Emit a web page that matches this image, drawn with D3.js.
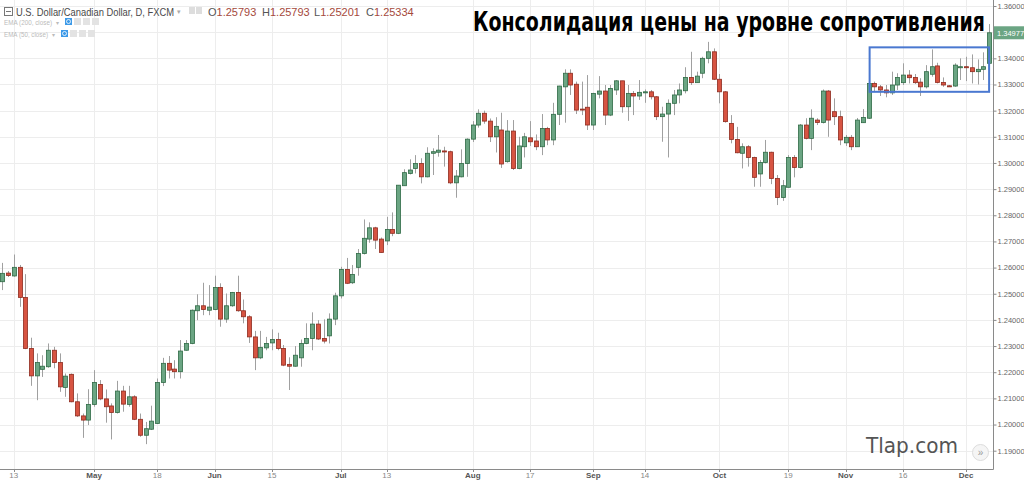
<!DOCTYPE html>
<html>
<head>
<meta charset="utf-8">
<script src="https://cdn.jsdelivr.net/npm/d3@7"></script>
<style>
    body { margin: 0; background: #fff; }
    #chart-area { width: 1024px; height: 480px; }
    text { font-family: Arial, "Liberation Sans", sans-serif; }
</style>
</head>
<body>
<div id="chart-area"></div>
<script>

// USD/CAD daily candles, one per trading day (Apr 9 .. Dec 7)
const opens = [
    1.2546, 1.2579, 1.2568, 1.2601, 1.2486, 1.2291, 1.2186, 1.2211, 1.2221, 1.2284,
    1.2237, 1.2142, 1.2192, 1.2087, 1.2033, 1.2017, 1.2077, 1.2153, 1.2098, 1.2071,
    1.2046, 1.2128, 1.2077, 1.2106, 1.2020, 1.1959, 1.1982, 1.2004, 1.2161, 1.2234,
    1.2212, 1.2202, 1.2284, 1.2310, 1.2435, 1.2454, 1.2437, 1.2440, 1.2524, 1.2403,
    1.2454, 1.2505, 1.2435, 1.2412, 1.2335, 1.2255, 1.2293, 1.2312, 1.2325, 1.2291,
    1.2230, 1.2223, 1.2255, 1.2310, 1.2329, 1.2384, 1.2329, 1.2339, 1.2403, 1.2492,
    1.2593, 1.2542, 1.2601, 1.2654, 1.2709, 1.2752, 1.2709, 1.2702, 1.2746, 1.2731,
    1.2913, 1.2960, 1.2979, 1.2998, 1.2947, 1.3037, 1.3041, 1.3046, 1.3043, 1.2924,
    1.2947, 1.2998, 1.3091, 1.3145, 1.3190, 1.3160, 1.3100, 1.3126, 1.3005, 1.3122,
    1.2979, 1.3062, 1.3096, 1.3084, 1.3062, 1.3132, 1.3088, 1.3186, 1.3291, 1.3343,
    1.3301, 1.3206, 1.3213, 1.3145, 1.3263, 1.3275, 1.3183, 1.3279, 1.3314, 1.3215,
    1.3266, 1.3256, 1.3268, 1.3272, 1.3253, 1.3177, 1.3187, 1.3228, 1.3260, 1.3276,
    1.3327, 1.3307, 1.3343, 1.3400, 1.3425, 1.3320, 1.3272, 1.3151, 1.3090, 1.3037,
    1.3062, 1.3021, 1.2958, 1.3002, 1.3041, 1.2941, 1.2868, 1.2907, 1.3021, 1.2983,
    1.3145, 1.3094, 1.3164, 1.3155, 1.3275, 1.3196, 1.3177, 1.3077, 1.3098, 1.3062,
    1.3154, 1.3171, 1.3304, 1.3291, 1.3279, 1.3268, 1.3298, 1.3307, 1.3336, 1.3327,
    1.3309, 1.3291, 1.3339, 1.3371, 1.3308, 1.3295, 1.3294, 1.3364, 1.3368, 1.3364,
    1.3349, 1.3358, 1.3381
];
const highs = [
    1.2618, 1.2587, 1.2650, 1.2610, 1.2575, 1.2332, 1.2272, 1.2265, 1.2310, 1.2297,
    1.2272, 1.2195, 1.2195, 1.2119, 1.2042, 1.2135, 1.2208, 1.2170, 1.2134, 1.2081,
    1.2167, 1.2148, 1.2148, 1.2112, 1.2042, 1.2010, 1.2072, 1.2176, 1.2255, 1.2262,
    1.2246, 1.2323, 1.2323, 1.2440, 1.2498, 1.2542, 1.2533, 1.2569, 1.2540, 1.2501,
    1.2507, 1.2569, 1.2478, 1.2418, 1.2358, 1.2358, 1.2335, 1.2364, 1.2351, 1.2304,
    1.2257, 1.2300, 1.2325, 1.2387, 1.2429, 1.2399, 1.2402, 1.2425, 1.2504, 1.2603,
    1.2637, 1.2610, 1.2671, 1.2784, 1.2773, 1.2756, 1.2715, 1.2794, 1.2811, 1.2915,
    1.2976, 1.3014, 1.3030, 1.3018, 1.3060, 1.3056, 1.3107, 1.3062, 1.3047, 1.2973,
    1.3052, 1.3094, 1.3160, 1.3205, 1.3200, 1.3170, 1.3175, 1.3192, 1.3164, 1.3164,
    1.3100, 1.3115, 1.3160, 1.3109, 1.3187, 1.3138, 1.3230, 1.3295, 1.3358, 1.3358,
    1.3311, 1.3311, 1.3336, 1.3268, 1.3332, 1.3298, 1.3298, 1.3317, 1.3314, 1.3298,
    1.3275, 1.3317, 1.3281, 1.3279, 1.3256, 1.3215, 1.3243, 1.3279, 1.3304, 1.3366,
    1.3425, 1.3349, 1.3406, 1.3463, 1.3438, 1.3340, 1.3275, 1.3183, 1.3138, 1.3075,
    1.3068, 1.3024, 1.3011, 1.3088, 1.3043, 1.2954, 1.2935, 1.3030, 1.3030, 1.3149,
    1.3171, 1.3205, 1.3171, 1.3281, 1.3279, 1.3247, 1.3200, 1.3107, 1.3107, 1.3172,
    1.3206, 1.3309, 1.3311, 1.3298, 1.3298, 1.3349, 1.3343, 1.3381, 1.3355, 1.3340,
    1.3324, 1.3374, 1.3434, 1.3383, 1.3327, 1.3298, 1.3381, 1.3400, 1.3406, 1.3415,
    1.3396, 1.3423, 1.3531
];
const lows = [
    1.2514, 1.2564, 1.2565, 1.2450, 1.2288, 1.2148, 1.2093, 1.2182, 1.2217, 1.2215,
    1.2125, 1.2106, 1.2085, 1.2029, 1.1949, 1.1998, 1.2068, 1.2093, 1.2007, 1.1943,
    1.2042, 1.2049, 1.2068, 1.2017, 1.1953, 1.1925, 1.1979, 1.2002, 1.2147, 1.2176,
    1.2176, 1.2176, 1.2282, 1.2307, 1.2399, 1.2418, 1.2418, 1.2437, 1.2374, 1.2389,
    1.2450, 1.2431, 1.2387, 1.2312, 1.2208, 1.2250, 1.2284, 1.2284, 1.2284, 1.2223,
    1.2132, 1.2221, 1.2221, 1.2307, 1.2284, 1.2323, 1.2310, 1.2310, 1.2380, 1.2482,
    1.2537, 1.2537, 1.2569, 1.2650, 1.2695, 1.2671, 1.2657, 1.2686, 1.2720, 1.2728,
    1.2913, 1.2956, 1.2960, 1.2922, 1.2945, 1.2954, 1.3024, 1.2986, 1.2919, 1.2867,
    1.2945, 1.2947, 1.3080, 1.3135, 1.3150, 1.3080, 1.3040, 1.2981, 1.3001, 1.2973,
    1.2976, 1.3021, 1.3065, 1.3049, 1.3030, 1.3068, 1.3068, 1.3145, 1.3154, 1.3260,
    1.3187, 1.3183, 1.3126, 1.3126, 1.3247, 1.3145, 1.3179, 1.3260, 1.3192, 1.3161,
    1.3183, 1.3241, 1.3230, 1.3243, 1.3164, 1.3081, 1.3021, 1.3183, 1.3228, 1.3266,
    1.3298, 1.3307, 1.3324, 1.3381, 1.3317, 1.3228, 1.3154, 1.3075, 1.3037, 1.2979,
    1.2986, 1.2909, 1.2909, 1.2998, 1.2919, 1.2839, 1.2855, 1.2907, 1.2945, 1.2979,
    1.3090, 1.3049, 1.3145, 1.3151, 1.3100, 1.3145, 1.3068, 1.3065, 1.3049, 1.3061,
    1.3153, 1.3168, 1.3272, 1.3256, 1.3251, 1.3260, 1.3279, 1.3298, 1.3304, 1.3302,
    1.3256, 1.3285, 1.3330, 1.3304, 1.3291, 1.3291, 1.3291, 1.3317, 1.3313, 1.3304,
    1.3300, 1.3317, 1.3374
];
const closes = [
    1.2578, 1.2570, 1.2601, 1.2486, 1.2291, 1.2186, 1.2237, 1.2223, 1.2284, 1.2237,
    1.2144, 1.2185, 1.2087, 1.2033, 1.2017, 1.2077, 1.2161, 1.2098, 1.2068, 1.2046,
    1.2128, 1.2078, 1.2106, 1.2020, 1.1959, 1.1984, 1.2013, 1.2161, 1.2234, 1.2208,
    1.2202, 1.2281, 1.2310, 1.2437, 1.2454, 1.2440, 1.2449, 1.2524, 1.2403, 1.2454,
    1.2505, 1.2435, 1.2412, 1.2335, 1.2255, 1.2295, 1.2310, 1.2325, 1.2291, 1.2227,
    1.2223, 1.2265, 1.2310, 1.2329, 1.2384, 1.2327, 1.2319, 1.2403, 1.2492, 1.2593,
    1.2540, 1.2574, 1.2654, 1.2712, 1.2752, 1.2705, 1.2658, 1.2746, 1.2731, 1.2915,
    1.2963, 1.2973, 1.2998, 1.2947, 1.3037, 1.3043, 1.3049, 1.3042, 1.2924, 1.2950,
    1.2998, 1.3091, 1.3145, 1.3190, 1.3160, 1.3100, 1.3140, 1.2996, 1.3122, 1.2979,
    1.3065, 1.3100, 1.3081, 1.3062, 1.3132, 1.3088, 1.3186, 1.3294, 1.3343, 1.3298,
    1.3202, 1.3203, 1.3145, 1.3266, 1.3275, 1.3183, 1.3285, 1.3314, 1.3215, 1.3266,
    1.3256, 1.3270, 1.3272, 1.3253, 1.3177, 1.3187, 1.3228, 1.3260, 1.3279, 1.3327,
    1.3307, 1.3332, 1.3400, 1.3425, 1.3320, 1.3272, 1.3158, 1.3090, 1.3039, 1.3062,
    1.3021, 1.2945, 1.3002, 1.3041, 1.2941, 1.2868, 1.2913, 1.3021, 1.2983, 1.3145,
    1.3094, 1.3171, 1.3155, 1.3275, 1.3164, 1.3177, 1.3088, 1.3098, 1.3062, 1.3164,
    1.3174, 1.3304, 1.3291, 1.3279, 1.3268, 1.3298, 1.3327, 1.3336, 1.3326, 1.3307,
    1.3291, 1.3349, 1.3368, 1.3308, 1.3298, 1.3291, 1.3374, 1.3368, 1.3364, 1.3349,
    1.3358, 1.3368, 1.34977
];

// time axis: bar index of each labelled day
const tickIndex = [2, 16, 27, 37, 47, 59, 67, 82, 92, 103, 112, 125, 137, 147, 157, 168];
const tickLabels = ["13", "May", "18", "Jun", "15", "Jul", "13", "Aug", "17", "Sep", "14", "Oct", "19", "Nov", "16", "Dec"];
const monthLabels = ["May", "Jun", "Jul", "Aug", "Sep", "Oct", "Nov", "Dec"];

// price axis
const priceTicks = [1.19, 1.20, 1.21, 1.22, 1.23, 1.24, 1.25, 1.26, 1.27, 1.28, 1.29, 1.30, 1.31, 1.32, 1.33, 1.34, 1.35, 1.36];

// consolidation box (bar range + price range)
const boxBars = [151, 172];
const boxPrices = [1.3272, 1.3442];

const legendValues = ["1.25793", "1.25793", "1.25201", "1.25334"];


class CandleVis {

    constructor(parentElement) {
        this.parentElement = parentElement;
        this.displayData = [];
        this.initVis();
    }

    initVis() {
        let vis = this;

        vis.width = 993;   // plot area, price scale on the right
        vis.height = 469;

        vis.svg = d3.select("#" + vis.parentElement).append("svg")
            .attr("width", 1024)
            .attr("height", 480);

        vis.x = d3.scaleLinear().domain([0, opens.length - 1]).range([2.3, 989.1]);
        vis.y = d3.scaleLinear().domain([1.183, 1.3623]).range([vis.height, 0]);

        vis.wrangleData();
    }

    wrangleData() {
        let vis = this;

        vis.displayData = opens.map((o, i) => ({
            i: i, open: o, high: highs[i], low: lows[i], close: closes[i],
            up: closes[i] >= o
        }));

        vis.updateVis();
    }

    updateVis() {
        let vis = this;
        let crisp = v => Math.round(v) + 0.5;

        // grid
        vis.svg.append("g").selectAll("line.hgrid")
            .data(priceTicks).enter().append("line")
            .attr("x1", 0).attr("x2", vis.width)
            .attr("y1", d => crisp(vis.y(d))).attr("y2", d => crisp(vis.y(d)))
            .attr("stroke", "#ededed");

        vis.svg.append("g").selectAll("line.vgrid")
            .data(tickIndex).enter().append("line")
            .attr("x1", d => crisp(vis.x(d))).attr("x2", d => crisp(vis.x(d)))
            .attr("y1", 0).attr("y2", vis.height)
            .attr("stroke", "#ededed");

        // candles
        let candles = vis.svg.append("g").selectAll("g.candle")
            .data(vis.displayData).enter().append("g");

        candles.append("line")
            .attr("x1", d => crisp(vis.x(d.i))).attr("x2", d => crisp(vis.x(d.i)))
            .attr("y1", d => vis.y(d.high)).attr("y2", d => vis.y(d.low))
            .attr("stroke", "#a0a0a0");

        candles.append("rect")
            .attr("x", d => Math.round(vis.x(d.i)) - 1.5)
            .attr("width", 4)
            .attr("y", d => vis.y(Math.max(d.open, d.close)))
            .attr("height", d => Math.max(1, Math.abs(vis.y(d.open) - vis.y(d.close))))
            .attr("fill", d => d.up ? "#6ba583" : "#d75442")
            .attr("stroke", d => d.up ? "#2f6a45" : "#8e2b1f")
            .attr("stroke-width", 0.8);

        // consolidation box
        vis.svg.append("rect")
            .attr("x", vis.x(boxBars[0]) + 1)
            .attr("y", vis.y(boxPrices[1]))
            .attr("width", vis.x(boxBars[1]) - vis.x(boxBars[0]) - 1)
            .attr("height", vis.y(boxPrices[0]) - vis.y(boxPrices[1]))
            .attr("fill", "none")
            .attr("stroke", "#4a78d0")
            .attr("stroke-width", 2);

        // axes frame
        vis.svg.append("line")
            .attr("x1", vis.width + 0.5).attr("x2", vis.width + 0.5)
            .attr("y1", 0).attr("y2", vis.height + 0.5)
            .attr("stroke", "#8a8a8a");
        vis.svg.append("line")
            .attr("x1", 0).attr("x2", vis.width + 0.5)
            .attr("y1", vis.height + 0.5).attr("y2", vis.height + 0.5)
            .attr("stroke", "#8a8a8a");

        // price axis
        let yAxis = vis.svg.append("g")
            .attr("transform", `translate(${vis.width + 0.5}, 0)`)
            .call(d3.axisRight(vis.y).tickValues(priceTicks).tickSize(3).tickPadding(1)
                .tickFormat(d3.format(".5f")));
        yAxis.select(".domain").remove();
        yAxis.selectAll("line").attr("stroke", "#8a8a8a");
        yAxis.selectAll("text").attr("fill", "#666").style("font-size", "7.5px");

        // last price marker
        let lastY = vis.y(closes[closes.length - 1]);
        vis.svg.append("rect")
            .attr("x", vis.width + 1).attr("y", lastY - 6.5)
            .attr("width", 1024 - vis.width - 1).attr("height", 13)
            .attr("fill", "#6ba583");
        vis.svg.append("text")
            .attr("x", vis.width + 4).attr("y", lastY + 3)
            .attr("fill", "#fff").style("font-size", "7.5px")
            .text(d3.format(".5f")(closes[closes.length - 1]));

        // time axis labels
        vis.svg.append("g").selectAll("text")
            .data(tickIndex).enter().append("text")
            .attr("x", d => vis.x(d))
            .attr("y", 478)
            .attr("text-anchor", "middle")
            .attr("fill", (d, i) => monthLabels.includes(tickLabels[i]) ? "#555" : "#888")
            .style("font-size", "8px")
            .style("font-weight", (d, i) => monthLabels.includes(tickLabels[i]) ? "bold" : "normal")
            .text((d, i) => tickLabels[i]);
        vis.svg.append("g").selectAll("line")
            .data(tickIndex).enter().append("line")
            .attr("x1", d => crisp(vis.x(d))).attr("x2", d => crisp(vis.x(d)))
            .attr("y1", vis.height + 1).attr("y2", vis.height + 3)
            .attr("stroke", "#8a8a8a");

        vis.drawLegend();
        vis.drawNotes();
    }

    drawLegend() {
        let vis = this;
        let g = vis.svg.append("g");

        // collapse box
        g.append("rect").attr("x", 4.5).attr("y", 7.5).attr("width", 8).attr("height", 8)
            .attr("fill", "none").attr("stroke", "#777");
        g.append("line").attr("x1", 6).attr("x2", 11).attr("y1", 11.5).attr("y2", 11.5).attr("stroke", "#777");

        g.append("text").attr("x", 16).attr("y", 15.5)
            .attr("textLength", 158).attr("lengthAdjust", "spacingAndGlyphs")
            .attr("fill", "#4a4a4a").style("font-size", "11px")
            .text("U.S. Dollar/Canadian Dollar, D, FXCM");
        g.append("text").attr("x", 177).attr("y", 14)
            .attr("fill", "#aaa").style("font-size", "7px").text("▾");
        [189, 196].forEach(x => g.append("rect").attr("x", x).attr("y", 7).attr("width", 6).attr("height", 7)
            .attr("fill", "#ddd"));

        let labels = ["O", "H", "L", "C"];
        let lx = [208, 262, 314, 366];
        labels.forEach((l, i) => {
            let t = g.append("text").attr("x", lx[i]).attr("y", 15.5).style("font-size", "11px");
            t.append("tspan").attr("fill", "#555").text(l);
            t.append("tspan").attr("fill", "#a5493c").text(legendValues[i]);
        });

        // indicator rows
        let rows = [["EMA (200, close)", 22, 48, 56, 65], ["EMA (50, close)", 34, 44, 52, 61]];
        rows.forEach(r => {
            g.append("text").attr("x", 4).attr("y", r[1] + 2.5)
                .attr("textLength", r[2]).attr("lengthAdjust", "spacingAndGlyphs")
                .attr("fill", "#bbb").style("font-size", "7.5px").text(r[0]);
            g.append("text").attr("x", r[3]).attr("y", r[1] + 2.5)
                .attr("fill", "#bbb").style("font-size", "6px").text("▾");
            g.append("rect").attr("x", r[4]).attr("y", r[1] - 4).attr("width", 7).attr("height", 7)
                .attr("fill", "#3d9ae8");
            g.append("circle").attr("cx", r[4] + 3.5).attr("cy", r[1] - 0.5).attr("r", 2)
                .attr("fill", "none").attr("stroke", "#fff").attr("stroke-width", 0.8);
            [9, 18, 27].forEach(dx => g.append("rect").attr("x", r[4] + dx).attr("y", r[1] - 4)
                .attr("width", 7).attr("height", 7).attr("fill", "#e3e3e3"));
        });
    }

    drawNotes() {
        let vis = this;

        vis.svg.append("text")
            .attr("x", 473).attr("y", 31)
            .attr("textLength", 512).attr("lengthAdjust", "spacingAndGlyphs")
            .attr("fill", "#000")
            .style("font-family", "'Liberation Sans Narrow', 'DejaVu Sans Condensed', Arial, sans-serif")
            .style("font-size", "27px")
            .style("font-weight", "bold")
            .text("Консолидация цены на уровне сопротивления");

        vis.svg.append("text")
            .attr("x", 866).attr("y", 453)
            .attr("textLength", 92).attr("lengthAdjust", "spacingAndGlyphs")
            .attr("fill", "#555")
            .style("font-family", "'DejaVu Sans', sans-serif")
            .style("font-size", "22px")
            .text("Tlap.com");

        vis.svg.append("circle")
            .attr("cx", 980.5).attr("cy", 452.5).attr("r", 8)
            .attr("fill", "#f5f5f5").attr("stroke", "#dcdcdc");
        vis.svg.append("text")
            .attr("x", 980.5).attr("y", 456)
            .attr("text-anchor", "middle")
            .attr("fill", "#999").style("font-size", "10px")
            .text("»");
    }
}

new CandleVis("chart-area");

</script>
</body>
</html>
